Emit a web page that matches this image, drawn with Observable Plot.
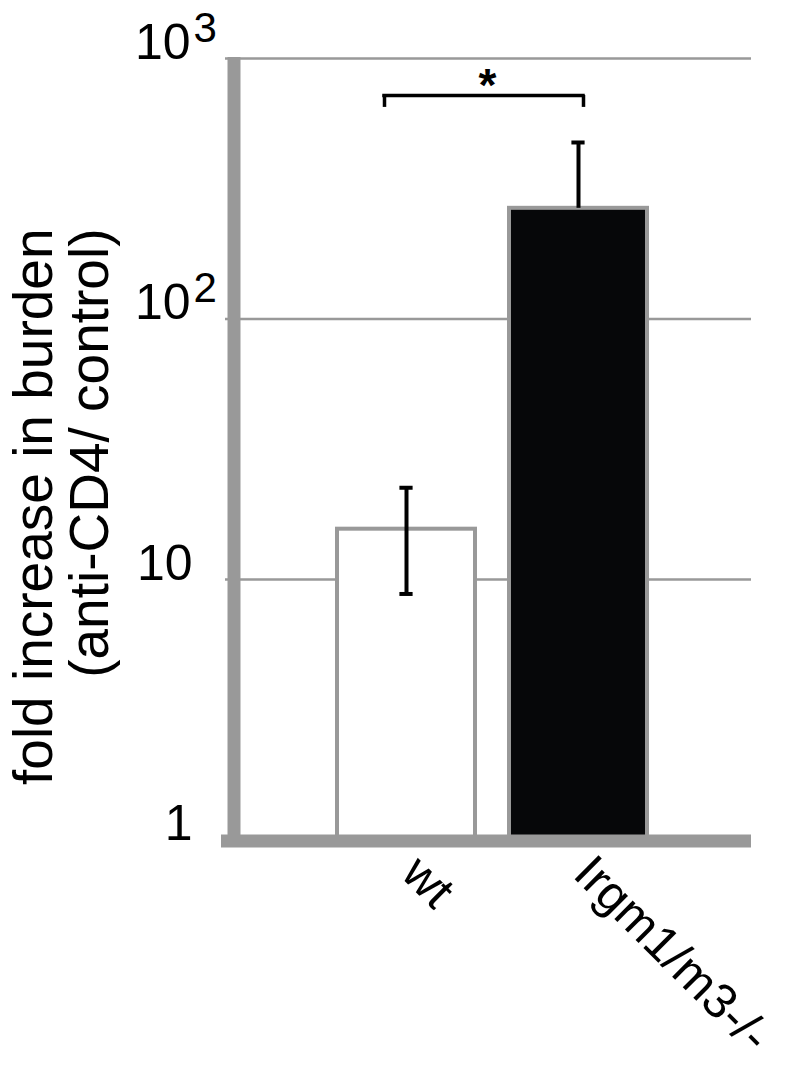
<!DOCTYPE html>
<html><head><meta charset="utf-8">
<script src="https://cdn.jsdelivr.net/npm/d3@7"></script>
<script src="https://cdn.jsdelivr.net/npm/@observablehq/plot@0.6"></script>
<style>body{margin:0;background:#fff}</style>
</head><body><div id="chart"></div>
<script>
const categories = ["wt", "Irgm1/m3-/-"];
const values = [15.6, 266];
const errLow = [8.8, null];
const errHigh = [22.5, 476];
const barFills = ["#ffffff", "#060709"];
const tickValues = [1, 10, 100, 1000];
const tickBase = ["1", "10", "10", "10"];
const tickExp = ["", "", "2", "3"];
const gridValues = [10, 100, 1000];
const yLabelLines = ["fold increase in burden", "(anti-CD4/ control)"];
const sigPair = ["wt", "Irgm1/m3-/-"];
const sigLabel = "*";
const sigLevel = 721, sigTickLevel = 649, sigTextLevel = 684;

const GRAY = "#999999";
const FONT = "Liberation Sans, Arial, Helvetica, sans-serif";

const bars = categories.map((c, i) => ({
  group: c, value: values[i], base: 1,
  lo: errLow[i] ?? values[i], hi: errHigh[i], hasLo: errLow[i] != null, fill: barFills[i]
}));
const ticks = tickValues.map((v, i) => ({v, base: tickBase[i], exp: tickExp[i]}));
const bracket = [{a: sigPair[0], b: sigPair[1], y: sigLevel, y0: sigTickLevel, ty: sigTextLevel, label: sigLabel}];

const chart = Plot.plot({
  width: 795, height: 1066,
  marginLeft: 225, marginRight: 44, marginTop: 57, marginBottom: 219,
  x: {type: "band", domain: categories, range: [337, 647], paddingInner: 0.2, paddingOuter: 0, axis: null},
  y: {type: "log", domain: [1, 1000], range: [839.5, 58], axis: null},
  style: {fontFamily: FONT, background: "white", color: "black"},
  marks: [
    Plot.ruleY(gridValues, {stroke: GRAY, strokeWidth: 2.5}),
    Plot.barY(bars, {x: "group", y1: "base", y2: "value", fill: "fill", stroke: GRAY, strokeWidth: 4}),
    Plot.ruleX(bars, {x: "group", y1: "lo", y2: "hi", stroke: "black", strokeWidth: 4}),
    Plot.tickY(bars, {x: "group", y: "hi", stroke: "black", strokeWidth: 4, insetLeft: 62.4, insetRight: 62.4}),
    Plot.tickY(bars.filter(d => d.hasLo), {x: "group", y: "lo", stroke: "black", strokeWidth: 4, insetLeft: 62.4, insetRight: 62.4}),
    // axes lines
    Plot.ruleY([1], {stroke: GRAY, strokeWidth: 13, dy: 1, insetLeft: -4}),
    Plot.ruleX([categories[0]], {x: d => d, y1: () => 1000, y2: () => 1, dx: -172.5, insetTop: -1, insetBottom: -7.5, stroke: GRAY, strokeWidth: 13}),
    // y tick labels
    Plot.text(ticks.filter(d => !d.exp), {y: "v", text: "base", frameAnchor: "left", textAnchor: "end", lineAnchor: "bottom", dx: -33, fontSize: 50}),
    Plot.text(ticks.filter(d => d.exp), {y: "v", text: "base", frameAnchor: "left", textAnchor: "end", lineAnchor: "bottom", dx: -35, fontSize: 50}),
    Plot.text(ticks.filter(d => d.exp), {y: "v", text: "exp", frameAnchor: "left", textAnchor: "start", lineAnchor: "bottom", dx: -32, dy: -17, fontSize: 42}),
    // y label
    Plot.text([yLabelLines[0]], {text: d => d, frameAnchor: "top-left", rotate: -90, textAnchor: "end", lineAnchor: "bottom", dx: -174, dy: 171, fontSize: 55}),
    Plot.text([yLabelLines[1]], {text: d => d, frameAnchor: "top-left", rotate: -90, textAnchor: "end", lineAnchor: "bottom", dx: -118, dy: 171, fontSize: 55}),
    // x labels
    Plot.text(bars, {x: "group", y: "base", text: "group", rotate: 45, textAnchor: "start", lineAnchor: "bottom", dx: -7, dy: 36, fontSize: 49}),
    // significance bracket
    Plot.ruleY(bracket, {y: "y", x1: "a", x2: "b", insetLeft: 47, insetRight: 64, stroke: "black", strokeWidth: 3.5, strokeLinecap: "square"}),
    Plot.ruleX(bracket, {x: "a", y1: "y0", y2: "y", dx: -22, stroke: "black", strokeWidth: 3.5}),
    Plot.ruleX(bracket, {x: "b", y1: "y0", y2: "y", dx: 5, stroke: "black", strokeWidth: 3.5}),
    Plot.text(bracket, {x: "a", y: "ty", text: "label", dx: 81, lineAnchor: "bottom", fontSize: 46, fontWeight: "bold"})
  ]
});
document.getElementById("chart").appendChild(chart);
</script>
</body></html>
